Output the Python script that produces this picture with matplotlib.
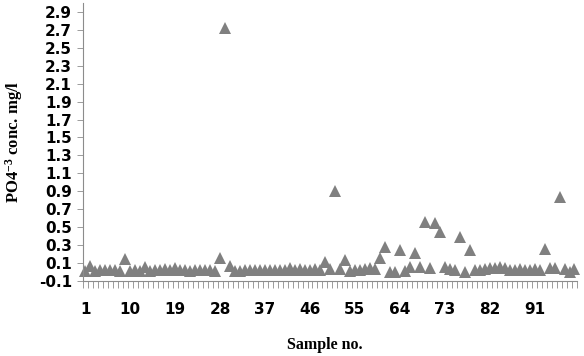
import matplotlib
matplotlib.use('Agg')
import matplotlib.pyplot as plt
import numpy as np

plt.rcParams['mathtext.fontset'] = 'custom'
plt.rcParams['mathtext.rm'] = 'Liberation Serif:bold'
plt.rcParams['mathtext.default'] = 'rm'

# PO4-3 concentration (mg/l) for samples 1..99
po4 = [0.01, 0.07, 0.01, 0.02, 0.02, 0.02, 0.02, 0.01, 0.14, 0.01,
       0.02, 0.01, 0.06, 0.01, 0.02, 0.02, 0.03, 0.02, 0.04, 0.02,
       0.02, 0.01, 0.02, 0.02, 0.02, 0.02, 0.01, 0.16, 2.72, 0.07,
       0.01, 0.01, 0.02, 0.02, 0.02, 0.02, 0.02, 0.02, 0.02, 0.02,
       0.02, 0.04, 0.02, 0.03, 0.02, 0.02, 0.03, 0.02, 0.11, 0.03,
       0.90, 0.03, 0.13, 0.01, 0.02, 0.02, 0.03, 0.04, 0.03, 0.16,
       0.28, 0.00, 0.00, 0.25, 0.01, 0.06, 0.21, 0.06, 0.56, 0.05,
       0.55, 0.45, 0.06, 0.03, 0.02, 0.39, 0.00, 0.25, 0.02, 0.02,
       0.03, 0.04, 0.05, 0.06, 0.04, 0.02, 0.02, 0.03, 0.02, 0.02,
       0.03, 0.02, 0.26, 0.05, 0.05, 0.84, 0.03, 0.00, 0.03]
samples = np.arange(1, len(po4) + 1)
xtick_labels = [1, 10, 19, 28, 37, 46, 55, 64, 73, 82, 91]
yticks = np.round(np.arange(-0.1, 2.95, 0.2), 1)

fig = plt.figure(figsize=(5.84, 3.56), dpi=100)
ax = fig.add_axes([0.142, 0.2107, 0.846, 0.781])

ax.plot(samples, po4, linestyle='none', marker='^', markersize=8.5,
        color='#808080', markeredgewidth=0, clip_on=False)

ax.set_xlim(0.5, len(po4) + 0.5)
ax.set_ylim(-0.1, 3.0)

grey = '#8c8c8c'
for s in ['top', 'right']:
    ax.spines[s].set_visible(False)
for s in ['left', 'bottom']:
    ax.spines[s].set_color(grey)
    ax.spines[s].set_linewidth(0.8)

ax.set_xticks(xtick_labels)
ax.set_xticklabels([str(v) for v in xtick_labels], fontsize=11, fontweight='bold')
ax.set_xticks(np.arange(0.5, len(po4) + 1, 1), minor=True)
ax.tick_params(axis='x', which='major', length=0, pad=15)
ax.tick_params(axis='x', which='minor', length=5, width=0.6, color=grey, direction='out')

ax.set_yticks(yticks)
ax.set_yticklabels(['%.1f' % v for v in yticks], fontsize=11, fontweight='bold')
ax.tick_params(axis='y', length=4, width=0.6, color=grey, pad=4)

ax.set_ylabel(r'PO4$^{-3}$ conc. mg/l', fontsize=12, fontweight='bold',
              family='Liberation Serif')
ax.yaxis.set_label_coords(-0.117, 0.5)
ax.set_xlabel('Sample no.', fontsize=11.5, fontweight='bold', family='Liberation Serif')
ax.xaxis.set_label_coords(0.49, -0.2)

fig.savefig('out.png', dpi=100)
